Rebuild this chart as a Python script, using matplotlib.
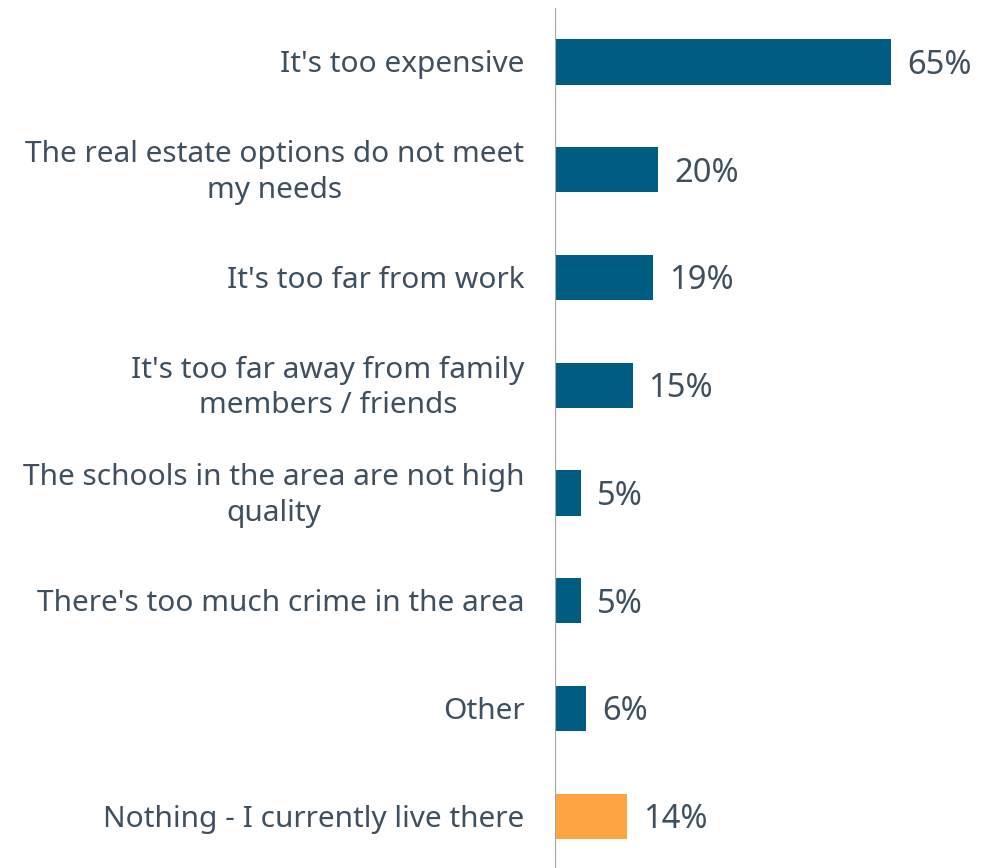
import matplotlib
matplotlib.use('Agg')
import matplotlib.pyplot as plt

reasons = [
    "It's too expensive",
    "The real estate options do not meet\nmy needs",
    "It's too far from work",
    "It's too far away from family\nmembers / friends",
    "The schools in the area are not high\nquality",
    "There's too much crime in the area",
    "Other",
    "Nothing - I currently live there",
]
shares = [65, 20, 19, 15, 5, 5, 6, 14]
bar_colors = ['#005c80'] * 7 + ['#fca541']

TEXT = '#3e5060'
plt.rcParams['font.family'] = ['Noto Sans', 'DejaVu Sans']

fig = plt.figure(figsize=(9.94, 8.68), dpi=100)
ax = fig.add_axes([555 / 994, 0, 1 - 555 / 994, 860 / 868])

y = range(len(reasons))
ax.barh(y, shares, height=0.42, color=bar_colors)
ax.set_xlim(0, 84.9)
ax.set_ylim(7.48, -0.5)

for yi, label, val in zip(y, reasons, shares):
    ax.annotate(label, (0, yi), xytext=(-22, -2), textcoords='offset points',
                ha='right', va='center', multialignment='center',
                fontsize=21.5, color=TEXT, linespacing=1.3)
    ax.annotate(f'{val}%', (val, yi), xytext=(11.5, -2.5), textcoords='offset points',
                ha='left', va='center', fontsize=23.5, color=TEXT)

ax.axvline(0, color='#a3a6a9', linewidth=1.6, zorder=3)
for s in ax.spines.values():
    s.set_visible(False)
ax.set_xticks([])
ax.set_yticks([])

fig.savefig('out.png', dpi=100)
